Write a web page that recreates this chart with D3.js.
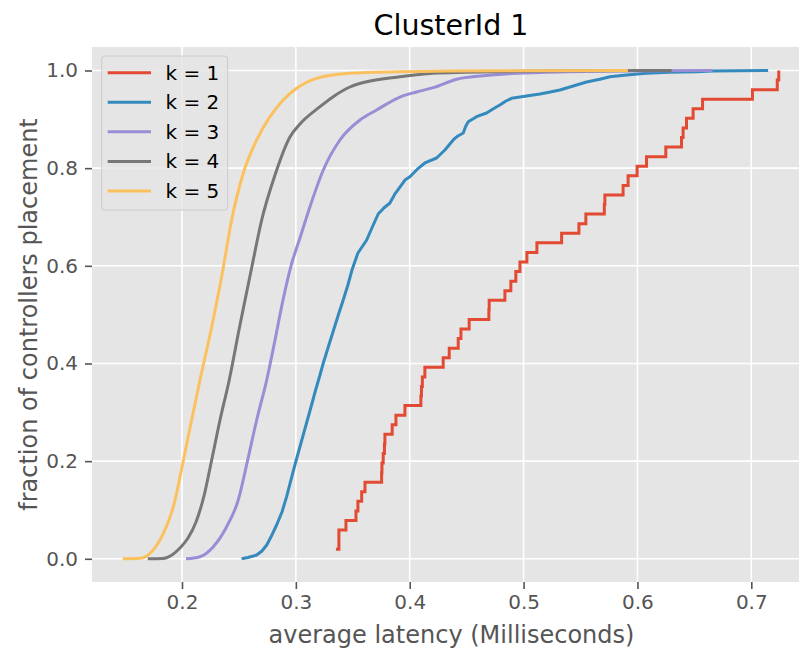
<!DOCTYPE html>
<html>
<head>
<meta charset="utf-8">
<script src="https://cdn.jsdelivr.net/npm/d3@7"></script>
<style>
  html, body { margin: 0; padding: 0; background: #ffffff; }
  svg { display: block; font-family: "DejaVu Sans", sans-serif; }
</style>
</head>
<body>
<svg id="chart" width="799" height="650"></svg>
<script>
// Series labels and colours (ggplot style cycle)
const seriesNames = ["k = 1", "k = 2", "k = 3", "k = 4", "k = 5"];
const seriesColors = ["#E24A33", "#348ABD", "#988ED5", "#777777", "#FBC15E"];

// k = 1: sorted average latencies of 51 placements (empirical CDF, drawn as steps)
const latencyK1 = [
  0.3352, 0.3378, 0.3378, 0.3440, 0.3528, 0.3545, 0.3578, 0.3607, 0.3753, 0.3756,
  0.3767, 0.3778, 0.3782, 0.3846, 0.3879, 0.3958, 0.4098, 0.4103, 0.4111, 0.4133,
  0.4294, 0.4347, 0.4426, 0.4450, 0.4522, 0.4695, 0.4698, 0.4836, 0.4888, 0.4932,
  0.4968, 0.5029, 0.5117, 0.5334, 0.5486, 0.5547, 0.5709, 0.5714, 0.5874, 0.5918,
  0.5997, 0.6080, 0.6249, 0.6387, 0.6401, 0.6431, 0.6489, 0.6572, 0.7010, 0.7228,
  0.7241
];

// k = 2
const latencyK2 = [
  0.2524, 0.2579, 0.2656, 0.2702, 0.2744, 0.2781, 0.2831, 0.2878, 0.2919, 0.2957,
  0.3001, 0.3045, 0.3089, 0.3133, 0.3176, 0.3212, 0.3241, 0.3282, 0.3326, 0.3370,
  0.3416, 0.3457, 0.3493, 0.3545, 0.3622, 0.3668, 0.3723, 0.3773, 0.3826, 0.3870,
  0.3914, 0.3958, 0.4002, 0.4075, 0.4133, 0.4236, 0.4309, 0.4382, 0.4423, 0.4470,
  0.4493, 0.4514, 0.4587, 0.4675, 0.4731, 0.4792, 0.4845, 0.4895, 0.5026, 0.5143,
  0.5202, 0.5319, 0.5436, 0.5553, 0.5670, 0.5758, 0.5904, 0.6080, 0.6284, 0.6519,
  0.6665, 0.7148
];
const fractionK2 = [
  0.0000, 0.0027, 0.0078, 0.0160, 0.0283, 0.0446, 0.0692, 0.0958, 0.1272, 0.1614,
  0.2003, 0.2371, 0.2740, 0.3109, 0.3477, 0.3764, 0.4010, 0.4317, 0.4645, 0.4972,
  0.5300, 0.5607, 0.5914, 0.6263, 0.6529, 0.6775, 0.7061, 0.7184, 0.7286, 0.7471,
  0.7614, 0.7757, 0.7825, 0.7997, 0.8106, 0.8208, 0.8372, 0.8577, 0.8659, 0.8720,
  0.8864, 0.8952, 0.9054, 0.9130, 0.9212, 0.9294, 0.9375, 0.9431, 0.9478, 0.9519,
  0.9545, 0.9601, 0.9683, 0.9765, 0.9820, 0.9873, 0.9908, 0.9943, 0.9963, 0.9975,
  0.9990, 1.0000
];

// k = 3
const latencyK3 = [
  0.2035, 0.2158, 0.2275, 0.2392, 0.2494, 0.2575, 0.2656, 0.2744, 0.2817, 0.2887,
  0.2957, 0.3036, 0.3124, 0.3241, 0.3387, 0.3563, 0.3709, 0.3914, 0.4061, 0.4206,
  0.4412, 0.4645, 0.4939, 0.5378, 0.5846, 0.6659
];
const fractionK3 = [
  0.0000, 0.0043, 0.0248, 0.0657, 0.1204, 0.2003, 0.2843, 0.3662, 0.4481, 0.5300,
  0.5996, 0.6570, 0.7211, 0.7962, 0.8577, 0.8986, 0.9191, 0.9457, 0.9560, 0.9648,
  0.9820, 0.9893, 0.9943, 0.9975, 0.9990, 1.0000
];

// k = 4
const latencyK4 = [
  0.1699, 0.1833, 0.1912, 0.1982, 0.2053, 0.2123, 0.2193, 0.2259, 0.2334, 0.2415,
  0.2509, 0.2615, 0.2700, 0.2817, 0.2948, 0.3036, 0.3212, 0.3328, 0.3475, 0.3622,
  0.3914, 0.4206, 0.4500, 0.4939, 0.5670, 0.6300
];
const fractionK4 = [
  0.0000, 0.0006, 0.0078, 0.0221, 0.0426, 0.0754, 0.1286, 0.2003, 0.2843, 0.3662,
  0.4788, 0.5996, 0.6938, 0.7860, 0.8638, 0.8904, 0.9259, 0.9464, 0.9662, 0.9771,
  0.9873, 0.9943, 0.9963, 0.9984, 0.9996, 1.0000
];

// k = 5
const latencyK5 = [
  0.1479, 0.1631, 0.1719, 0.1836, 0.1924, 0.2011, 0.2070, 0.2158, 0.2255, 0.2351,
  0.2436, 0.2538, 0.2656, 0.2773, 0.2889, 0.3007, 0.3183, 0.3475, 0.3914, 0.4353,
  0.5916
];
const fractionK5 = [
  0.0000, 0.0010, 0.0113, 0.0522, 0.1067, 0.2003, 0.2679, 0.3662, 0.4686, 0.5812,
  0.6938, 0.7895, 0.8577, 0.9054, 0.9396, 0.9635, 0.9840, 0.9943, 0.9975, 0.9990,
  1.0000
];

// Axis ticks
const xTicks = [0.2, 0.3, 0.4, 0.5, 0.6, 0.7];
const yTicks = [0.0, 0.2, 0.4, 0.6, 0.8, 1.0];

const titleText = "ClusterId 1";
const xLabelText = "average latency (Milliseconds)";
const yLabelText = "fraction of controllers placement";

// ---------------------------------------------------------------
const svg = d3.select("#chart");
const W = 799, H = 650;
const plot = { left: 92, right: 813, top: 47, bottom: 582 };

const x = d3.scaleLinear().domain([0.2, 0.7]).range([182, 751.3]);
const y = d3.scaleLinear().domain([0, 1]).range([558.8, 70.5]);

svg.append("rect").attr("width", W).attr("height", H).attr("fill", "#ffffff");

// Plot background
svg.append("rect")
  .attr("x", plot.left).attr("y", plot.top)
  .attr("width", plot.right - plot.left).attr("height", plot.bottom - plot.top)
  .attr("fill", "#E5E5E5");

// Grid
const grid = svg.append("g").attr("stroke", "#ffffff").attr("stroke-width", 1.6);
grid.selectAll("line.gx").data(xTicks).join("line")
  .attr("x1", d => x(d)).attr("x2", d => x(d))
  .attr("y1", plot.top).attr("y2", plot.bottom);
grid.selectAll("line.gy").data(yTicks).join("line")
  .attr("x1", plot.left).attr("x2", plot.right)
  .attr("y1", d => y(d)).attr("y2", d => y(d));

// Axes
const fmt = d3.format(".1f");
const xAxis = svg.append("g")
  .attr("transform", `translate(0,${plot.bottom})`)
  .call(d3.axisBottom(x).tickValues(xTicks).tickFormat(fmt).tickSize(7).tickPadding(6));
const yAxis = svg.append("g")
  .attr("transform", `translate(${plot.left},0)`)
  .call(d3.axisLeft(y).tickValues(yTicks).tickFormat(fmt).tickSize(7).tickPadding(7));
[xAxis, yAxis].forEach(a => {
  a.select(".domain").remove();
  a.selectAll(".tick line").attr("stroke", "#555555").attr("stroke-width", 1.6);
  a.selectAll(".tick text")
    .attr("fill", "#555555")
    .style("font-family", "'DejaVu Sans', sans-serif")
    .style("font-size", "20px");
});

// Clip for data lines
svg.append("defs").append("clipPath").attr("id", "plotClip")
  .append("rect")
  .attr("x", plot.left).attr("y", plot.top)
  .attr("width", plot.right - plot.left).attr("height", plot.bottom - plot.top);

const linesG = svg.append("g").attr("clip-path", "url(#plotClip)");

// k = 1 as empirical CDF steps
const n1 = latencyK1.length;
const k1Points = latencyK1.map((v, i) => [v, (i + 1) / n1]);
const stepLine = d3.line().x(d => x(d[0])).y(d => y(d[1])).curve(d3.curveStepAfter);
linesG.append("path").datum(k1Points)
  .attr("d", stepLine)
  .attr("fill", "none").attr("stroke", seriesColors[0])
  .attr("stroke-width", 3).attr("stroke-linejoin", "miter");

const zipPts = (xs, ys) => xs.map((v, i) => [v, ys[i]]);
const curves = [
  { pts: zipPts(latencyK2, fractionK2), curve: d3.curveLinear, color: seriesColors[1] },
  { pts: zipPts(latencyK3, fractionK3), curve: d3.curveMonotoneX, color: seriesColors[2] },
  { pts: zipPts(latencyK4, fractionK4), curve: d3.curveMonotoneX, color: seriesColors[3] },
  { pts: zipPts(latencyK5, fractionK5), curve: d3.curveMonotoneX, color: seriesColors[4] }
];
curves.forEach(c => {
  const ln = d3.line().x(d => x(d[0])).y(d => y(d[1])).curve(c.curve);
  linesG.append("path").datum(c.pts)
    .attr("d", ln)
    .attr("fill", "none").attr("stroke", c.color)
    .attr("stroke-width", 3).attr("stroke-linejoin", "round");
});

// Legend
const legend = svg.append("g");
legend.append("rect")
  .attr("x", 101.7).attr("y", 56).attr("width", 126).attr("height", 154)
  .attr("rx", 3).attr("ry", 3)
  .attr("fill", "#E5E5E5").attr("fill-opacity", 0.8)
  .attr("stroke", "#CCCCCC").attr("stroke-width", 1);
const rowY = d3.scalePoint().domain(seriesNames).range([72.7, 191]);
const rows = legend.selectAll("g.row").data(seriesNames).join("g")
  .attr("transform", d => `translate(0,${rowY(d)})`);
rows.append("line")
  .attr("x1", 107.7).attr("x2", 151).attr("y1", 0).attr("y2", 0)
  .attr("stroke", (d, i) => seriesColors[i]).attr("stroke-width", 3);
rows.append("text")
  .attr("x", 165.5).attr("y", 7)
  .attr("fill", "#000000")
  .style("font-size", "20px")
  .text(d => d);

// Title and axis labels
svg.append("text")
  .attr("x", 451).attr("y", 35)
  .attr("text-anchor", "middle")
  .attr("fill", "#000000")
  .style("font-size", "28.5px")
  .text(titleText);

svg.append("text")
  .attr("x", 451.5).attr("y", 643)
  .attr("text-anchor", "middle")
  .attr("fill", "#555555")
  .style("font-size", "24px")
  .text(xLabelText);

svg.append("text")
  .attr("transform", `translate(37,${(plot.top + plot.bottom) / 2}) rotate(-90)`)
  .attr("text-anchor", "middle")
  .attr("fill", "#555555")
  .style("font-size", "24px")
  .text(yLabelText);
</script>
</body>
</html>
